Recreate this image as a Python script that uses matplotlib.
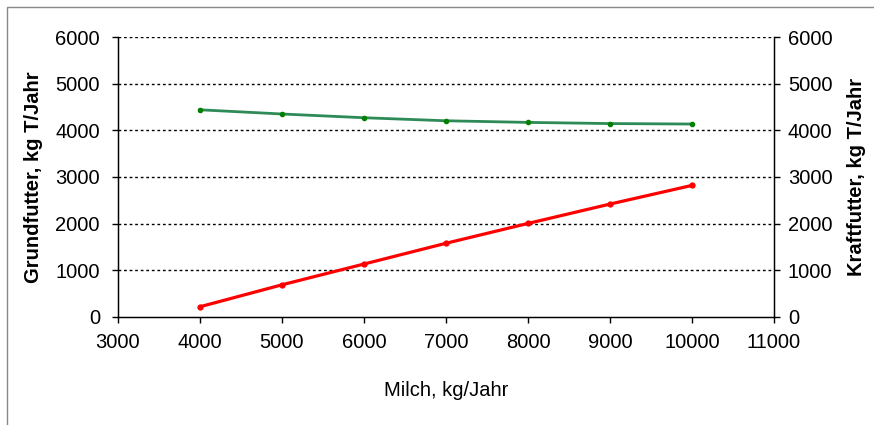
import matplotlib
matplotlib.use("Agg")
import matplotlib.pyplot as plt
from matplotlib.patches import Rectangle

plt.rcParams['font.family'] = ['Liberation Sans', 'DejaVu Sans']

# Milchleistung, kg/Jahr
milch = [4000, 5000, 6000, 7000, 8000, 9000, 10000]
# Grundfutter, kg T/Jahr
grundfutter = [4440, 4350, 4270, 4205, 4170, 4145, 4135]
# Kraftfutter, kg T/Jahr
kraftfutter = [220, 690, 1135, 1580, 2005, 2420, 2820]

y_ticks = [0, 1000, 2000, 3000, 4000, 5000, 6000]
x_ticks = [3000, 4000, 5000, 6000, 7000, 8000, 9000, 10000, 11000]

fs = 14.5

fig = plt.figure(figsize=(8.74, 4.25), dpi=100)
ax = fig.add_axes([118 / 874, 1 - 317 / 425, (774 - 118) / 874, (317 - 37) / 425])

# grey outer frame
fig.patches.append(Rectangle((7 / 874, -0.01), 1.0, 1 - 7 / 425 + 0.01,
                             transform=fig.transFigure, fill=False,
                             edgecolor='#888888', linewidth=1.0))

ax.plot(milch, grundfutter, color='#2E8B57', linewidth=2,
        marker='o', markersize=3, markerfacecolor='#008000', markeredgecolor='#008000')
ax.plot(milch, kraftfutter, color='#FF0000', linewidth=2.3,
        marker='o', markersize=3.5, markerfacecolor='#FF0000', markeredgecolor='#FF0000')

ax.set_xlim(3000, 11000)
ax.set_ylim(0, 6000)
ax.set_xticks(x_ticks)
ax.set_yticks(y_ticks)

for y in y_ticks[1:]:
    ax.axhline(y, color='black', linestyle=(0, (2, 2)), linewidth=1.0, zorder=0)

ax.spines['top'].set_visible(False)
for s in ['left', 'right', 'bottom']:
    ax.spines[s].set_linewidth(1.0)

ax.tick_params(axis='both', direction='out', length=4, width=1.0, labelsize=fs)
ax.tick_params(axis='x', pad=7.5)
ax.tick_params(axis='y', pad=9)

ax2 = ax.twinx()
ax2.set_ylim(0, 6000)
ax2.set_yticks(y_ticks)
ax2.spines['top'].set_visible(False)
ax2.tick_params(axis='y', direction='out', length=4, width=1.0, labelsize=fs, pad=6)

ax.set_xlabel('Milch, kg/Jahr', fontsize=fs, va='center')
ax.set_ylabel('Grundfutter, kg T/Jahr', fontsize=fs, fontweight='bold', va='center')
ax2.set_ylabel('Kraftfutter, kg T/Jahr', fontsize=fs, fontweight='bold', va='center')
ax.xaxis.set_label_coords((446 - 118) / 656, (317 - 390) / 280)
ax.yaxis.set_label_coords((33 - 118) / 656, 0.5)
ax2.yaxis.set_label_coords((857 - 118) / 656, 0.5)

fig.savefig('out.png', dpi=100)
